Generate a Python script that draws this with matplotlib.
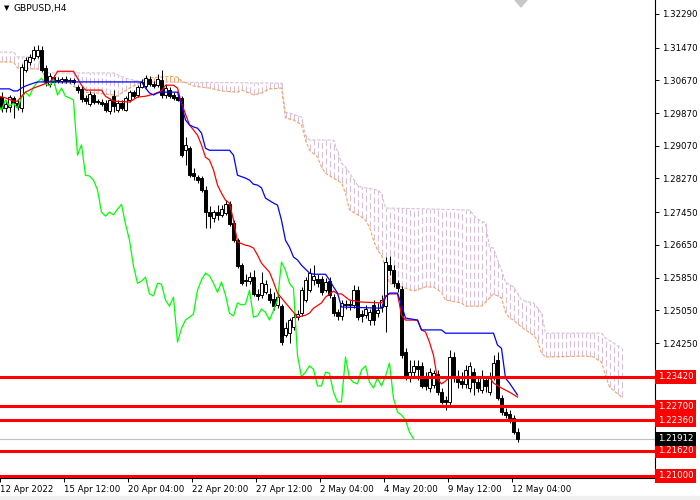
import numpy as np
import matplotlib.pyplot as plt

# GBPUSD H4 candles, oldest first (bar 0 = 12 Apr 2022)
opens = [1.3026, 1.2999, 1.3002, 1.3024, 1.3011, 1.2999, 1.3092, 1.3112, 1.3121, 1.3126,
         1.3141, 1.3097, 1.3058, 1.3075, 1.3068, 1.3065, 1.3070, 1.3065, 1.3068, 1.3050,
         1.3046, 1.3024, 1.3009, 1.3031, 1.3016, 1.3014, 1.3011, 1.2992, 1.3028, 1.2994,
         1.3011, 1.2994, 1.3019, 1.3038, 1.3031, 1.3050, 1.3053, 1.3070, 1.3058, 1.3055,
         1.3068, 1.3031, 1.3043, 1.3031, 1.3026, 1.3024, 1.2896, 1.2901, 1.2840, 1.2830,
         1.2828, 1.2799, 1.2745, 1.2730, 1.2745, 1.2738, 1.2742, 1.2764, 1.2718, 1.2676,
         1.2615, 1.2579, 1.2576, 1.2586, 1.2545, 1.2542, 1.2549, 1.2545, 1.2532, 1.2518,
         1.2515, 1.2444, 1.2449, 1.2464, 1.2488, 1.2498, 1.2530, 1.2554, 1.2579, 1.2581,
         1.2581, 1.2554, 1.2576, 1.2537, 1.2500, 1.2491, 1.2520, 1.2518, 1.2518, 1.2554,
         1.2496, 1.2493, 1.2481, 1.2518, 1.2498, 1.2513, 1.2515, 1.2615, 1.2603, 1.2571,
         1.2557, 1.2403, 1.2342, 1.2354, 1.2369, 1.2369, 1.2339, 1.2315, 1.2322, 1.2349,
         1.2305, 1.2285, 1.2281, 1.2391, 1.2344, 1.2332, 1.2325, 1.2315, 1.2354, 1.2329,
         1.2310, 1.2334, 1.2305, 1.2339, 1.2383, 1.2290, 1.2256, 1.2251, 1.2241, 1.2207]
closes = [1.2999, 1.3009, 1.3026, 1.3011, 1.3002, 1.3099, 1.3116, 1.3124, 1.3141, 1.3141,
          1.3092, 1.3063, 1.3077, 1.3063, 1.3065, 1.3070, 1.3065, 1.3068, 1.3063, 1.3043,
          1.3021, 1.3016, 1.3033, 1.3014, 1.3014, 1.3009, 1.2994, 1.3019, 1.3004, 1.3011,
          1.2999, 1.3024, 1.3038, 1.3028, 1.3050, 1.3063, 1.3072, 1.3058, 1.3053, 1.3070,
          1.3031, 1.3048, 1.3028, 1.3024, 1.3019, 1.2884, 1.2909, 1.2835, 1.2833, 1.2823,
          1.2799, 1.2745, 1.2735, 1.2745, 1.2738, 1.2752, 1.2764, 1.2716, 1.2676, 1.2613,
          1.2571, 1.2576, 1.2586, 1.2545, 1.2540, 1.2571, 1.2569, 1.2530, 1.2515, 1.2537,
          1.2427, 1.2461, 1.2481, 1.2488, 1.2496, 1.2554, 1.2579, 1.2596, 1.2589, 1.2571,
          1.2549, 1.2574, 1.2542, 1.2498, 1.2491, 1.2523, 1.2518, 1.2520, 1.2554, 1.2488,
          1.2491, 1.2508, 1.2500, 1.2481, 1.2505, 1.2530, 1.2623, 1.2603, 1.2571, 1.2559,
          1.2395, 1.2342, 1.2354, 1.2369, 1.2361, 1.2320, 1.2320, 1.2354, 1.2351, 1.2305,
          1.2281, 1.2281, 1.2391, 1.2339, 1.2329, 1.2325, 1.2359, 1.2369, 1.2329, 1.2315,
          1.2339, 1.2320, 1.2344, 1.2376, 1.2290, 1.2256, 1.2249, 1.2237, 1.2207, 1.21912]
highs = [1.3038, 1.3019, 1.3031, 1.3028, 1.3019, 1.3107, 1.3124, 1.3131, 1.3151, 1.3153,
         1.3151, 1.3104, 1.3085, 1.3080, 1.3075, 1.3075, 1.3077, 1.3072, 1.3072, 1.3055,
         1.3053, 1.3031, 1.3041, 1.3036, 1.3021, 1.3021, 1.3019, 1.3024, 1.3043, 1.3019,
         1.3019, 1.3028, 1.3043, 1.3043, 1.3055, 1.3070, 1.3080, 1.3077, 1.3065, 1.3082,
         1.3092, 1.3058, 1.3050, 1.3038, 1.3033, 1.3028, 1.2928, 1.2906, 1.2852, 1.2835,
         1.2833, 1.2808, 1.2760, 1.2750, 1.2762, 1.2762, 1.2774, 1.2772, 1.2725, 1.2681,
         1.2620, 1.2593, 1.2598, 1.2603, 1.2557, 1.2598, 1.2579, 1.2559, 1.2549, 1.2547,
         1.2520, 1.2476, 1.2486, 1.2498, 1.2505, 1.2562, 1.2586, 1.2608, 1.2615, 1.2593,
         1.2588, 1.2584, 1.2586, 1.2545, 1.2508, 1.2530, 1.2530, 1.2530, 1.2567, 1.2564,
         1.2505, 1.2518, 1.2508, 1.2530, 1.2523, 1.2542, 1.2635, 1.2637, 1.2615, 1.2579,
         1.2564, 1.2412, 1.2383, 1.2383, 1.2383, 1.2378, 1.2354, 1.2364, 1.2359, 1.2359,
         1.2315, 1.2295, 1.2408, 1.2403, 1.2359, 1.2354, 1.2371, 1.2378, 1.2364, 1.2339,
         1.2359, 1.2344, 1.2354, 1.2395, 1.2403, 1.2298, 1.2266, 1.2261, 1.2249, 1.2217]
lows = [1.2989, 1.2989, 1.2989, 1.2975, 1.2994, 1.2989, 1.3087, 1.3104, 1.3116, 1.3121,
        1.3087, 1.3053, 1.3050, 1.3055, 1.3060, 1.3060, 1.3060, 1.3060, 1.3058, 1.3036,
        1.3014, 1.3009, 1.3004, 1.3009, 1.3009, 1.3004, 1.2989, 1.2984, 1.2989, 1.2989,
        1.2994, 1.2992, 1.3014, 1.3024, 1.3026, 1.3048, 1.3048, 1.3053, 1.3048, 1.3050,
        1.3024, 1.3024, 1.3024, 1.3019, 1.3016, 1.2879, 1.2860, 1.2830, 1.2823, 1.2816,
        1.2794, 1.2706, 1.2706, 1.2720, 1.2725, 1.2733, 1.2738, 1.2711, 1.2672, 1.2608,
        1.2567, 1.2564, 1.2569, 1.2540, 1.2530, 1.2535, 1.2545, 1.2523, 1.2505, 1.2510,
        1.2420, 1.2439, 1.2425, 1.2457, 1.2481, 1.2491, 1.2525, 1.2549, 1.2567, 1.2562,
        1.2542, 1.2549, 1.2535, 1.2491, 1.2481, 1.2481, 1.2508, 1.2505, 1.2510, 1.2481,
        1.2476, 1.2486, 1.2469, 1.2469, 1.2488, 1.2500, 1.2452, 1.2591, 1.2562, 1.2549,
        1.2388, 1.2334, 1.2329, 1.2339, 1.2334, 1.2315, 1.2310, 1.2305, 1.2315, 1.2298,
        1.2276, 1.2261, 1.2273, 1.2329, 1.2315, 1.2315, 1.2315, 1.2305, 1.2298, 1.2305,
        1.2303, 1.2305, 1.2298, 1.2334, 1.2285, 1.2249, 1.2241, 1.2229, 1.2202, 1.2183]

# Ichimoku lines: (bar position, price)
tenkan_x = [-0.5, 1, 3, 4, 5, 6, 8, 10, 12, 13, 14, 18, 19, 20, 21, 25, 26, 28, 32, 34,
            36, 38, 40, 41, 43, 44, 45, 47, 49, 50, 51, 52, 53, 54, 55, 56, 57, 58, 59, 61,
            62, 63, 64, 65, 67, 68, 69, 70, 71, 73, 74, 76, 77, 78, 80, 81, 83, 84, 85, 87,
            90, 95, 96, 97, 99, 100, 101, 104, 105, 106, 107, 108, 109, 110, 111, 112, 122, 123, 125, 127,
            129]
tenkan_y = [1.3028, 1.3024, 1.3016, 1.3016, 1.3028, 1.3038, 1.3048, 1.3055, 1.3063, 1.3072,
            1.3089, 1.3089, 1.3072, 1.3055, 1.3043, 1.3043, 1.3028, 1.3016, 1.3014, 1.3026,
            1.3028, 1.3033, 1.3041, 1.3055, 1.3055, 1.3048, 1.3011, 1.2958, 1.2933, 1.2909,
            1.2879, 1.2872, 1.2848, 1.2811, 1.2791, 1.2774, 1.2767, 1.2725, 1.2672, 1.2664,
            1.2662, 1.2657, 1.2640, 1.2620, 1.2598, 1.2574, 1.2547, 1.2535, 1.2523, 1.2500,
            1.2488, 1.2493, 1.2498, 1.2510, 1.2523, 1.2537, 1.2552, 1.2545, 1.2545, 1.2530,
            1.2525, 1.2523, 1.2540, 1.2545, 1.2545, 1.2493, 1.2481, 1.2481, 1.2457, 1.2452,
            1.2427, 1.2395, 1.2337, 1.2325, 1.2332, 1.2342, 1.2342, 1.2327, 1.2315, 1.2305,
            1.2293]

kijun_x = [-0.5, 2, 3, 4, 5, 6, 8, 9, 35, 36, 37, 38, 39, 40, 44, 45, 46, 47, 48, 49,
           50, 51, 52, 57, 58, 59, 61, 62, 63, 64, 65, 66, 68, 69, 70, 71, 72, 73, 74, 75,
           77, 78, 81, 82, 83, 84, 85, 95, 96, 97, 99, 100, 101, 104, 105, 110, 111, 123, 124, 125,
           126, 127, 129]
kijun_y = [1.3046, 1.3046, 1.3041, 1.3041, 1.3048, 1.3053, 1.3060, 1.3063, 1.3063, 1.3048,
           1.3036, 1.3031, 1.3036, 1.3038, 1.3038, 1.3006, 1.2970, 1.2958, 1.2953, 1.2950,
           1.2938, 1.2901, 1.2896, 1.2896, 1.2884, 1.2835, 1.2828, 1.2823, 1.2813, 1.2811,
           1.2804, 1.2779, 1.2767, 1.2762, 1.2725, 1.2676, 1.2659, 1.2635, 1.2628, 1.2615,
           1.2596, 1.2593, 1.2593, 1.2579, 1.2562, 1.2547, 1.2513, 1.2510, 1.2537, 1.2547,
           1.2547, 1.2518, 1.2486, 1.2481, 1.2457, 1.2457, 1.2449, 1.2449, 1.2420, 1.2412,
           1.2339, 1.2327, 1.2298]

span_b_x = [-1, 3, 4, 9, 10, 11, 28, 31, 35, 70, 71, 72, 75, 76, 77, 83, 85, 86, 89, 90,
            94, 95, 96, 117, 118, 119, 121, 122, 123, 124, 125, 126, 128, 130, 133, 135, 136, 150, 151, 153,
            155]
span_b_y = [1.3136, 1.3136, 1.3124, 1.3124, 1.3099, 1.3085, 1.3085, 1.3072, 1.3063, 1.3060,
            1.2989, 1.2987, 1.2977, 1.2933, 1.2921, 1.2921, 1.2865, 1.2855, 1.2811, 1.2806,
            1.2799, 1.2791, 1.2755, 1.2750, 1.2738, 1.2728, 1.2718, 1.2659, 1.2657, 1.2628,
            1.2603, 1.2574, 1.2562, 1.2530, 1.2523, 1.2498, 1.2449, 1.2449, 1.2437, 1.2425,
            1.2412]

span_a_x = [-1, 3, 4, 10, 11, 15, 17, 20, 24, 28, 29, 30, 32, 35, 36, 40, 42, 44, 45, 48,
            52, 55, 59, 60, 62, 63, 65, 67, 70, 71, 73, 75, 76, 77, 79, 80, 81, 83, 85, 86,
            87, 90, 91, 92, 93, 94, 95, 96, 97, 100, 103, 106, 108, 110, 111, 115, 116, 120, 122, 123,
            125, 126, 127, 128, 130, 131, 133, 134, 135, 136, 146, 148, 150, 151, 152, 155]
span_a_y = [1.3112, 1.3112, 1.3097, 1.3094, 1.3072, 1.3060, 1.3060, 1.3038, 1.3036, 1.3031,
            1.3028, 1.3036, 1.3048, 1.3063, 1.3072, 1.3075, 1.3077, 1.3075, 1.3065, 1.3053,
            1.3048, 1.3041, 1.3038, 1.3043, 1.3036, 1.3031, 1.3036, 1.3046, 1.3048, 1.2975,
            1.2970, 1.2958, 1.2921, 1.2896, 1.2879, 1.2855, 1.2840, 1.2828, 1.2816, 1.2791,
            1.2750, 1.2733, 1.2725, 1.2708, 1.2676, 1.2652, 1.2640, 1.2610, 1.2571, 1.2562,
            1.2552, 1.2562, 1.2562, 1.2549, 1.2530, 1.2523, 1.2515, 1.2515, 1.2535, 1.2545,
            1.2535, 1.2500, 1.2486, 1.2481, 1.2464, 1.2457, 1.2444, 1.2432, 1.2400, 1.2391,
            1.2393, 1.2391, 1.2378, 1.2346, 1.2317, 1.2293]

# support / resistance levels and the last bid
levels = [1.2342, 1.2270, 1.2236, 1.2162, 1.2100]
level_labels = ["1.23420", "1.22700", "1.22360", "1.21620", "1.21000"]
bid = 1.21912

price_ticks = [1.3229, 1.3147, 1.3067, 1.2987, 1.2907, 1.2827, 1.2745, 1.2665,
               1.2585, 1.2505, 1.2425]
date_pos = [0, 16, 32, 48, 64, 80, 96, 112, 128]
date_labels = ["12 Apr 2022", "15 Apr 12:00", "20 Apr 04:00", "22 Apr 20:00", "27 Apr 12:00",
               "2 May 04:00", "4 May 20:00", "9 May 12:00", "12 May 04:00"]

FONT = "DejaVu Sans"
FS = 6.2

fig = plt.figure(figsize=(7, 5), dpi=100)
ax = fig.add_axes([0, 22 / 500, 655 / 700, 478 / 500])
ax.set_xlim(-0.375, 163.375)
ax.set_ylim(1.20951, 1.32632)

# kumo drawn as dotted histogram, one stroke per bar like MT4 does
bars = np.arange(0, 156)
a = np.interp(bars, span_a_x, span_a_y)
b = np.interp(bars, span_b_x, span_b_y)
cols = np.where(b >= a, "#D8BFD8", "#F4A460")
ax.vlines(bars, np.minimum(a, b), np.maximum(a, b), colors=cols, lw=0.8,
          linestyles=(0, (5.5, 2.8)), zorder=1)
ax.plot(span_b_x, span_b_y, color="#D8BFD8", lw=0.8, ls=(0, (3, 1.5)), zorder=2)
ax.plot(span_a_x, span_a_y, color="#F4A460", lw=0.8, ls=(0, (3, 1.5)), zorder=2)

# candles
idx = np.arange(len(closes))
o = np.array(opens)
c = np.array(closes)
up = c >= o
ax.vlines(idx, lows, highs, color="black", lw=0.75, zorder=3)
ax.bar(idx[up], (c - o)[up], bottom=o[up], width=0.55, color="white",
       edgecolor="black", lw=0.7, zorder=4)
ax.bar(idx[~up], (c - o)[~up], bottom=o[~up], width=0.55, color="black",
       edgecolor="black", lw=0.7, zorder=4)

# chikou span is the close moved back 26 bars
ax.plot(idx - 26, closes, color="#00FF00", lw=0.9, zorder=5)
ax.plot(tenkan_x, tenkan_y, color="#FF0000", lw=0.9, zorder=5)
ax.plot(kijun_x, kijun_y, color="#0000FF", lw=0.9, zorder=5)

ax.axhline(bid, color="#C0C0C0", lw=0.8, zorder=2)
for lv in levels:
    ax.axhline(lv, color="#FF0000", lw=2.2, zorder=6)

# axes look
for s in ["top", "left"]:
    ax.spines[s].set_visible(False)
for s in ["right", "bottom"]:
    ax.spines[s].set_linewidth(0.8)
ax.yaxis.tick_right()
ax.set_yticks(price_ticks, [f"{t:.5f}" for t in price_ticks])
ax.tick_params(axis="y", length=3, width=0.7, pad=2, labelsize=FS)
ax.set_xticks([p - 0.3 for p in date_pos], date_labels)
ax.tick_params(axis="x", length=3, width=0.7, pad=2, labelsize=FS)
for lab in ax.get_xticklabels():
    lab.set_ha("left")
    lab.set_family(FONT)
for lab in ax.get_yticklabels():
    lab.set_family(FONT)

ytr = ax.get_yaxis_transform()
for lv, txt in zip(levels, level_labels):
    ax.text(1.004, lv, txt, transform=ytr, ha="left", va="center", color="white",
            fontsize=FS, family=FONT, zorder=10,
            bbox=dict(boxstyle="square,pad=0.28", fc="#FF0000", ec="none"))
ax.text(1.004, bid, "1.21912", transform=ytr, ha="left", va="center", color="white",
        fontsize=FS, family=FONT, zorder=10,
        bbox=dict(boxstyle="square,pad=0.28", fc="black", ec="none"))

# symbol caption, chart-shift marker and the window strip at the bottom
fig.text(4 / 700, 1 - 8 / 500, "\u25BC", fontsize=5, va="center", family=FONT)
fig.text(14 / 700, 1 - 8 / 500, "GBPUSD,H4", fontsize=6.6, va="center", family=FONT)
fig.patches.append(plt.Polygon([[515 / 700, 1], [527 / 700, 1], [521 / 700, 1 - 7 / 500]],
                               closed=True, transform=fig.transFigure, color="#C8C8C8"))
fig.patches.append(plt.Rectangle((0, 0), 1, 4 / 500, transform=fig.transFigure,
                                 color="#F0F0F0"))

fig.savefig("out.png", dpi=100)
